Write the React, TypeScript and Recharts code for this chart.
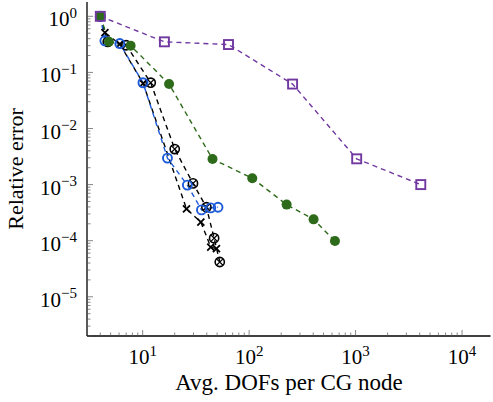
import React from 'react';
import { LineChart, Line, XAxis, YAxis } from 'recharts';

// convergence curves, one pair of x/y arrays per method
const crossX = [4, 4.42, 6.1, 10.1, 25.8, 35.2, 43.6, 49.3];
const crossY = [1.0, 0.51, 0.32, 0.064, 0.00037, 0.000214, 0.000077, 0.000072];

const otimesX = [4, 4.7, 7.0, 11.9, 20, 29.7, 39.7, 46.9, 53];
const otimesY = [1.0, 0.35, 0.305, 0.0656, 0.0043, 0.00105, 0.000395, 0.000111, 0.0000417];

const blueX = [4, 4.42, 6.1, 10.07, 17.1, 26.3, 35.7, 43.6, 51];
const blueY = [1.0, 0.366, 0.327, 0.0656, 0.00297, 0.00098, 0.000354, 0.000384, 0.000395];

const greenX = [4, 4.82, 7.7, 17.7, 45.3, 107, 225, 403, 640];
const greenY = [1.0, 0.351, 0.3, 0.062, 0.00285, 0.0013, 0.00044, 0.00024, 0.0000985];

const purpleX = [4, 16, 64, 256, 1024, 4096];
const purpleY = [1.0, 0.351, 0.314, 0.062, 0.00288, 0.001];

const xMajor = [10, 100, 1000, 10000];
const yMajor = [1e-5, 1e-4, 1e-3, 1e-2, 1e-1, 1];
const xDomain = [3, 18500];
const yDomain = [2e-6, 1.8];

const xTitle = 'Avg. DOFs per CG node';
const yTitle = 'Relative error';

const minorsOf = (majors: number[], lo: number, hi: number) => {
  const out: number[] = [];
  [majors[0] / 10, ...majors].forEach((d) => {
    for (let m = 1; m <= 9; m++) {
      const v = d * m;
      if (v > lo && v < hi) out.push(v);
    }
  });
  return out;
};
const xTicks = minorsOf(xMajor, xDomain[0], xDomain[1]);
const yTicks = minorsOf(yMajor, yDomain[0], yDomain[1]);

const zip = (xs: number[], ys: number[]) => xs.map((x, i) => ({ x, y: ys[i] }));

const FONT = '"Liberation Serif", "DejaVu Serif", serif';
const isMajor = (v: number) => Math.abs(Math.log10(v) - Math.round(Math.log10(v))) < 1e-6;
const expOf = (v: number) => Math.round(Math.log10(v));

const Pow = ({ x, y, v, anchor }: any) => {
  const e = expOf(v);
  return (
    <text x={x} y={y} textAnchor={anchor} fontFamily={FONT} fontSize={21} fill="#000">
      10
      <tspan dy={-8.5} fontSize={15}>{e < 0 ? '\u2212' + -e : e}</tspan>
    </text>
  );
};

const BottomTick = (p: any) => {
  const v = p.payload.value;
  const len = isMajor(v) ? 6 : 3.5;
  return (
    <g>
      <line x1={p.x} x2={p.x} y1={p.y} y2={p.y - len} stroke="#555" strokeWidth={0.7} />
      {isMajor(v) && <Pow x={p.x} y={p.y + 28} v={v} anchor="middle" />}
    </g>
  );
};
const TopTick = (p: any) => {
  const len = isMajor(p.payload.value) ? 6 : 3.5;
  return <line x1={p.x} x2={p.x} y1={p.y} y2={p.y + len} stroke="#555" strokeWidth={0.7} />;
};
const LeftTick = (p: any) => {
  const v = p.payload.value;
  const len = isMajor(v) ? 6 : 3.5;
  return (
    <g>
      <line x1={p.x} x2={p.x + len} y1={p.y} y2={p.y} stroke="#555" strokeWidth={0.7} />
      {isMajor(v) && <Pow x={p.x - 10} y={p.y + 10} v={v} anchor="end" />}
    </g>
  );
};
const RightTick = (p: any) => {
  const len = isMajor(p.payload.value) ? 6 : 3.5;
  return <line x1={p.x} x2={p.x - len} y1={p.y} y2={p.y} stroke="#555" strokeWidth={0.7} />;
};

// axis titles
const XTitle = () => (
  <text x={289} y={390} textAnchor="middle" fontFamily={FONT} fontSize={23} fill="#000">{xTitle}</text>
);
const YTitle = () => (
  <text x={0} y={0} transform="translate(23,169) rotate(-90)" textAnchor="middle" fontFamily={FONT} fontSize={22} fill="#000">{yTitle}</text>
);

// marker shapes
const cross = (p: any) => (
  <path key={p.index} d={`M${p.cx - 3.5},${p.cy - 3.5}L${p.cx + 3.5},${p.cy + 3.5}M${p.cx - 3.5},${p.cy + 3.5}L${p.cx + 3.5},${p.cy - 3.5}`}
    stroke="#000" strokeWidth={1.8} fill="none" />
);
const otimes = (p: any) => (
  <g key={p.index}>
    <circle cx={p.cx} cy={p.cy} r={4.6} stroke="#000" strokeWidth={1.6} fill="none" />
    <path d={`M${p.cx - 3.2},${p.cy - 3.2}L${p.cx + 3.2},${p.cy + 3.2}M${p.cx - 3.2},${p.cy + 3.2}L${p.cx + 3.2},${p.cy - 3.2}`}
      stroke="#000" strokeWidth={1.2} />
  </g>
);
const ring = (p: any) => (
  <circle key={p.index} cx={p.cx} cy={p.cy} r={4.5} stroke="#1c5ad8" strokeWidth={1.9} fill="none" />
);
const disc = (p: any) => <circle key={p.index} cx={p.cx} cy={p.cy} r={5} fill="#2d6b1a" />;
const square = (p: any) => (
  <rect key={p.index} x={p.cx - 4.5} y={p.cy - 4.5} width={9} height={9} stroke="#7038a0" strokeWidth={1.9} fill="none" />
);

const dash = '5 4';

export default function App() {
  return (
    <div style={{ position: 'absolute', left: 0, top: 0, width: 493, height: 402, background: '#fff' }}>
      <LineChart width={493} height={402} margin={{ top: 2, right: 2.5, bottom: 0, left: 0 }}>
        <XAxis xAxisId="b" type="number" dataKey="x" scale="log" domain={xDomain} allowDataOverflow
          ticks={xTicks} interval={0} tick={BottomTick} tickLine={false} tickSize={0} tickMargin={0}
          height={66} axisLine={{ stroke: '#000', strokeWidth: 1.3 }} label={<XTitle />} />
        <XAxis xAxisId="t" orientation="top" type="number" dataKey="x" scale="log" domain={xDomain} allowDataOverflow
          ticks={xTicks} interval={0} tick={TopTick} tickLine={false} tickSize={0} tickMargin={0}
          height={0} axisLine={{ stroke: '#000', strokeWidth: 1.3 }} />
        <YAxis yAxisId="l" type="number" dataKey="y" scale="log" domain={yDomain} allowDataOverflow
          ticks={yTicks} interval={0} tick={LeftTick} tickLine={false} tickSize={0} tickMargin={0}
          width={87} axisLine={{ stroke: '#000', strokeWidth: 1.3 }} label={<YTitle />} />
        <YAxis yAxisId="r" orientation="right" type="number" dataKey="y" scale="log" domain={yDomain} allowDataOverflow
          ticks={yTicks} interval={0} tick={RightTick} tickLine={false} tickSize={0} tickMargin={0}
          width={0} axisLine={{ stroke: '#000', strokeWidth: 1.3 }} />

        <Line xAxisId="b" yAxisId="l" data={zip(crossX, crossY)} dataKey="y" stroke="#000" strokeWidth={1.4}
          strokeDasharray={dash} dot={cross} isAnimationActive={false} />
        <Line xAxisId="b" yAxisId="l" data={zip(otimesX, otimesY)} dataKey="y" stroke="#000" strokeWidth={1.4}
          strokeDasharray={dash} dot={otimes} isAnimationActive={false} />
        <Line xAxisId="b" yAxisId="l" data={zip(blueX, blueY)} dataKey="y" stroke="#1c5ad8" strokeWidth={1.4}
          strokeDasharray={dash} dot={ring} isAnimationActive={false} />
        <Line xAxisId="b" yAxisId="l" data={zip(greenX, greenY)} dataKey="y" stroke="#2d6b1a" strokeWidth={1.4}
          strokeDasharray={dash} dot={disc} isAnimationActive={false} />
        <Line xAxisId="b" yAxisId="l" data={zip(purpleX, purpleY)} dataKey="y" stroke="#7038a0" strokeWidth={1.4}
          strokeDasharray={dash} dot={square} isAnimationActive={false} />
      </LineChart>
    </div>
  );
}
